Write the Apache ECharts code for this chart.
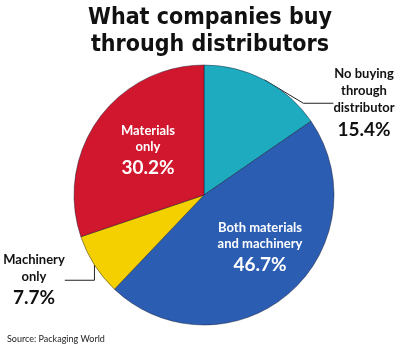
<!DOCTYPE html>
<html><head><meta charset="utf-8">
<script src="https://cdn.jsdelivr.net/npm/echarts@6/dist/echarts.min.js"></script>
<style>html,body{margin:0;padding:0;background:#fff}#c{width:400px;height:344px}</style>
</head><body><div id="c"></div>
<script>
const categories = ['No buying\nthrough\ndistributor', 'Both materials\nand machinery', 'Machinery\nonly', 'Materials\nonly'];
const values = [15.4, 46.7, 7.7, 30.2];
const colors = ['#1eabbf', '#2b5db3', '#f4d000', '#d0172d'];
const titleText = 'What companies buy\nthrough distributors';
const sourceText = 'Source: Packaging World';

const chart = echarts.init(document.getElementById('c'), null, {renderer: 'canvas'});
const labelPos = [
  {x: 364, y: 104},
  {x: 260, y: 249},
  {x: 34, y: 281},
  {x: 148, y: 152}
];
const inside = [false, true, false, true];
const data = categories.map((c, i) => ({
  name: c, value: values[i],
  itemStyle: {color: colors[i]},
  label: {
    position: inside[i] ? 'inside' : 'outside',
    overflow: 'none',
    color: inside[i] ? '#fff' : '#111',
    formatter: p => c.split('\n').map(s => '{n|' + s + '}').join('\n') + '\n{p|' + p.value.toFixed(1) + '%}',
    rich: {
      n: {fontFamily: 'Lato, "Open Sans", sans-serif', fontSize: 13, fontWeight: 'bold', lineHeight: inside[i] ? 16 : 17, color: inside[i] ? '#fff' : '#111', align: 'center'},
      p: {fontFamily: 'Lato, "Open Sans", sans-serif', fontSize: 19, fontWeight: 'bold', lineHeight: 26, color: inside[i] ? '#fff' : '#111', align: 'center'}
    }
  },
  labelLine: {show: !inside[i], lineStyle: {color: '#222', width: 1}}
}));
chart.setOption({
  animation: false,
  title: [{
    text: titleText, left: 205, top: 0, textAlign: 'center',
    textStyle: {fontFamily: '"DejaVu Sans Condensed", "DejaVu Sans", sans-serif', fontWeight: 900, fontSize: 23, lineHeight: 27, color: '#111'}
  }, {
    text: sourceText, left: 2, top: 330,
    textStyle: {fontFamily: 'Lato, sans-serif', fontWeight: 'normal', fontSize: 9, color: '#222'}
  }],
  series: [{
    type: 'pie', center: [204, 195], radius: 130, startAngle: 90, clockwise: true,
    itemStyle: {borderColor: 'rgba(20,20,40,0.45)', borderWidth: 1},
    label: {overflow: 'none', bleedMargin: 0},
    labelLayout: p => ({x: labelPos[p.dataIndex].x, y: labelPos[p.dataIndex].y, align: 'center', verticalAlign: 'middle'}),
    data: data
  }]
});
</script></body></html>
